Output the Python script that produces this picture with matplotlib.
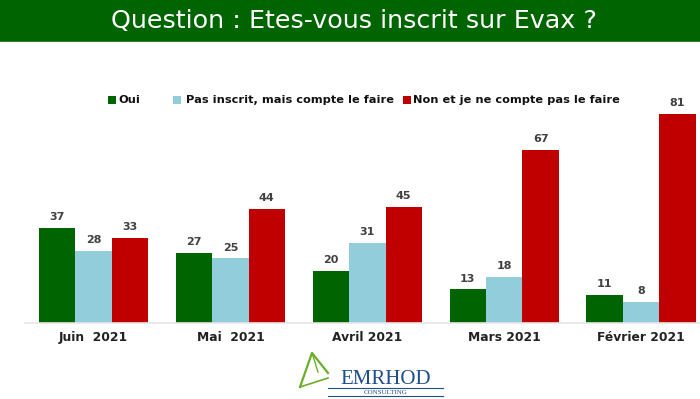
import matplotlib
matplotlib.use("Agg")
import matplotlib.pyplot as plt
from matplotlib.patches import Rectangle
import numpy as np

categories = ["Juin  2021", "Mai  2021", "Avril 2021", "Mars 2021", "Février 2021"]
series_names = ["Oui", "Pas inscrit, mais compte le faire", "Non et je ne compte pas le faire"]
oui = [37, 27, 20, 13, 11]
pas_inscrit = [28, 25, 31, 18, 8]
non = [33, 44, 45, 67, 81]
colors = ["#006400", "#92CDDC", "#C00000"]

W, H = 700, 399
fig = plt.figure(figsize=(7, 3.99), dpi=100)
plt.rcParams['font.family'] = ['DejaVu Sans']

def fx(px):
    return px / W

def fy(py):
    return 1 - py / H

# Title banner
fig.patches.append(Rectangle((0, fy(41)), 1, 41 / H, transform=fig.transFigure,
                             facecolor="#006400", edgecolor="none", zorder=0))
fig.patches.append(Rectangle((0, fy(42)), 1, 1.2 / H, transform=fig.transFigure,
                             facecolor="#2E7D32", edgecolor="none", zorder=0))
fig.text(fx(354), fy(21), "Question : Etes-vous inscrit sur Evax ?", color="white",
         fontsize=18.3, ha="center", va="center")

# Main axes
ax = fig.add_axes([fx(25), fy(323), fx(675), 223 / H])
x = np.arange(len(categories))
bw = 0.266
for i, (vals, c) in enumerate(zip([oui, pas_inscrit, non], colors)):
    pos = x + (i - 1) * bw
    ax.bar(pos, vals, width=bw, color=c, edgecolor="none", zorder=2)
    for p, v in zip(pos, vals):
        ax.text(p, v + 2.3, str(v), ha="center", va="bottom", fontsize=8,
                fontweight="bold", color="#404040")
ax.set_xlim(-0.5, 4.43)
ax.set_ylim(0, 86.4)
ax.set_xticks(x)
ax.set_xticklabels(categories, fontsize=8.8, fontweight="bold", color="#222222")
ax.tick_params(axis="x", length=0, pad=6)
ax.set_yticks([])
for s in ["top", "right", "left"]:
    ax.spines[s].set_visible(False)
ax.spines["bottom"].set_color("#E6E6E6")
ax.spines["bottom"].set_linewidth(1.2)
ax.patch.set_alpha(0)

# Legend (manual layout)
leg_items = [(108, 118), (173, 186), (403, 413)]
for (sq, tx), name, c in zip(leg_items, series_names, colors):
    fig.patches.append(Rectangle((fx(sq), fy(104)), 8 / W, 8 / H, transform=fig.transFigure,
                                 facecolor=c, edgecolor="none"))
    fig.text(fx(tx), fy(100), name, fontsize=8.2, fontweight="bold", color="#111111",
             ha="left", va="center")

# Logo
lax = fig.add_axes([fx(285), fy(399), fx(160), 54 / H])
lax.set_xlim(285, 445)
lax.set_ylim(399, 345)
lax.axis("off")
lax.plot([300, 312, 328], [387, 353, 373], color="#6AAE2A", lw=1.6)
lax.plot([300, 328], [387, 378], color="#6AAE2A", lw=1.2)
lax.plot([312, 318], [353, 372], color="#6AAE2A", lw=1.0)
lax.text(386, 379, "EMRHOD", fontsize=15, family="Liberation Serif", color="#1F4E8C",
         ha="center", va="center")
lax.plot([328, 443], [388, 388], color="#1F4E8C", lw=0.8)
lax.plot([328, 443], [396, 396], color="#1F4E8C", lw=0.8)
lax.text(386, 392, "CONSULTING", fontsize=5, family="Liberation Serif", color="#1F4E8C",
         ha="center", va="center")

fig.savefig("out.png", dpi=100)
